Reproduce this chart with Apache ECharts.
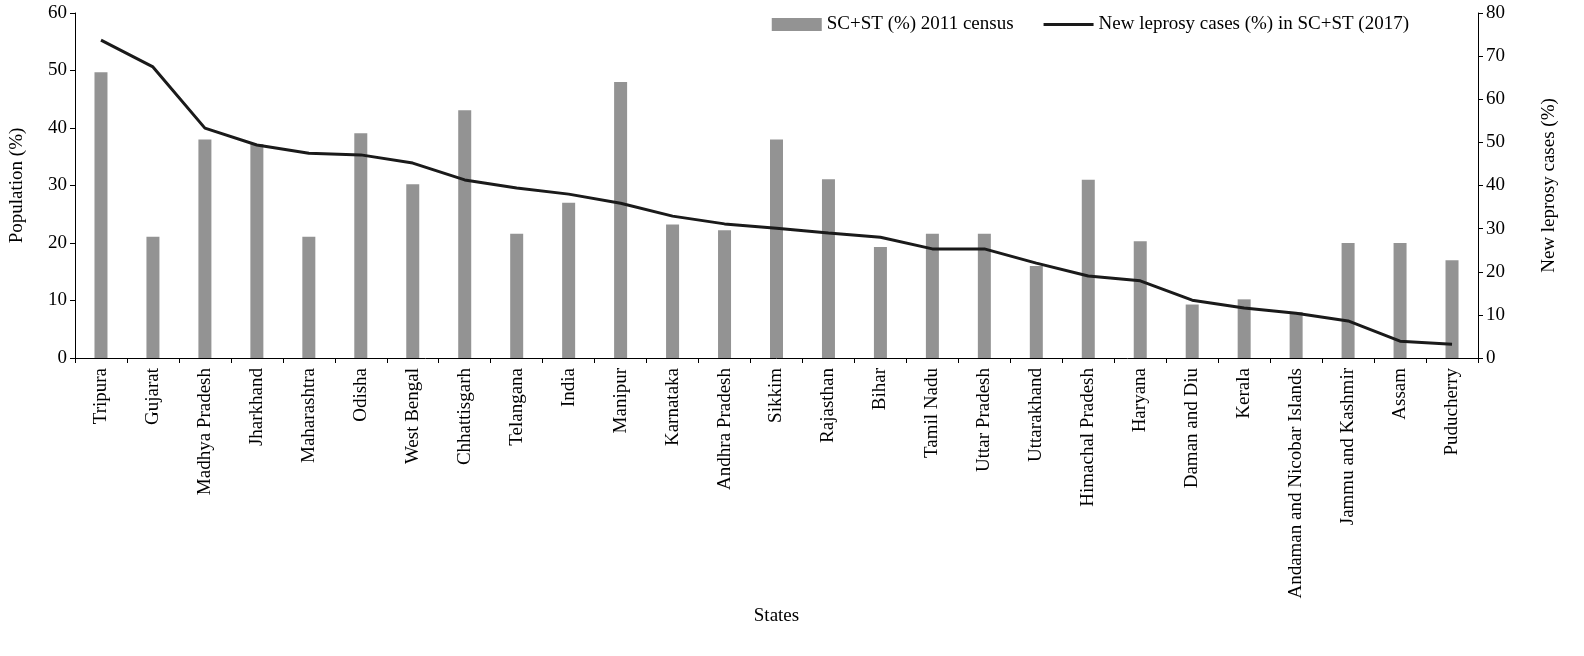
<!DOCTYPE html>
<html lang="en">
<head>
<meta charset="UTF-8">
<title>Leprosy SC+ST</title>
<style>
  html, body { margin: 0; padding: 0; background: #fff; }
  #box { width: 1584px; height: 656px; }
</style>
</head>
<body>
<div id="box"></div>
<script src="https://cdn.jsdelivr.net/npm/echarts@6/dist/echarts.min.js"></script>
<script>
var states = ['Tripura', 'Gujarat', 'Madhya Pradesh', 'Jharkhand', 'Maharashtra', 'Odisha', 'West Bengal',
  'Chhattisgarh', 'Telangana', 'India', 'Manipur', 'Karnataka', 'Andhra Pradesh', 'Sikkim', 'Rajasthan',
  'Bihar', 'Tamil Nadu', 'Uttar Pradesh', 'Uttarakhand', 'Himachal Pradesh', 'Haryana', 'Daman and Diu',
  'Kerala', 'Andaman and Nicobar Islands', 'Jammu and Kashmir', 'Assam', 'Puducherry'];

// SC+ST share of population, 2011 census (%)
var population = [49.7, 21.1, 38, 37.2, 21.1, 39.1, 30.2, 43.1, 21.6, 27, 48, 23.2, 22.2, 38, 31.1,
  19.3, 21.6, 21.6, 16, 31, 20.3, 9.3, 10.2, 8, 20, 20, 17];

// new leprosy cases in SC+ST, 2017 (%)
var leprosy = [73.7, 67.5, 53.3, 49.4, 47.5, 47.1, 45.2, 41.3, 39.4, 38, 35.9, 32.9, 31.1, 30.1, 29,
  28, 25.3, 25.3, 22, 19, 17.9, 13.4, 11.6, 10.4, 8.6, 3.9, 3.2];

var font = 'Liberation Serif';
var chart = echarts.init(document.getElementById('box'));

var axisCommon = {
  axisLine: { show: true, lineStyle: { color: '#000' } },
  axisTick: { show: true, lineStyle: { color: '#000' } },
  splitLine: { show: false },
  axisLabel: { color: '#000', fontFamily: font, fontSize: 19 },
  nameTextStyle: { color: '#000', fontFamily: font, fontSize: 19 }
};

chart.setOption({
  animation: false,
  textStyle: { fontFamily: font },
  grid: { left: 70, right: 106, top: 13, bottom: 298 },
  legend: {
    top: 10, right: 170, itemGap: 30,
    textStyle: { color: '#000', fontFamily: font, fontSize: 19 },
    data: [
      { name: 'SC+ST (%) 2011 census', icon: 'rect', itemStyle: { color: '#939393' } },
      { name: 'New leprosy cases (%) in SC+ST (2017)', icon: 'path://M0,0 L52,0 L52,3 L0,3 Z' }
    ],
    itemWidth: 50, itemHeight: 13
  },
  xAxis: {
    type: 'category',
    data: states,
    name: 'States',
    nameLocation: 'middle',
    nameGap: 240,
    nameTextStyle: { color: '#000', fontFamily: font, fontSize: 19 },
    axisLine: { lineStyle: { color: '#000' } },
    axisTick: { show: true, interval: 0, lineStyle: { color: '#000' } },
    axisLabel: { interval: 0, rotate: 90, color: '#000', fontFamily: font, fontSize: 19, margin: 10 }
  },
  yAxis: [
    Object.assign({
      type: 'value', min: 0, max: 60, interval: 10,
      name: 'Population (%)', nameLocation: 'middle', nameGap: 48
    }, axisCommon),
    Object.assign({
      type: 'value', min: 0, max: 80, interval: 10,
      name: 'New leprosy cases (%)', nameLocation: 'middle', nameGap: 62, nameRotate: 90,
      position: 'right'
    }, axisCommon)
  ],
  series: [
    {
      name: 'SC+ST (%) 2011 census',
      type: 'bar',
      data: population,
      barWidth: 13,
      itemStyle: { color: '#939393' }
    },
    {
      name: 'New leprosy cases (%) in SC+ST (2017)',
      type: 'line',
      yAxisIndex: 1,
      data: leprosy,
      symbol: 'none',
      lineStyle: { color: '#1a1a1a', width: 3 },
      itemStyle: { color: '#1a1a1a' }
    }
  ]
});
</script>
</body>
</html>
